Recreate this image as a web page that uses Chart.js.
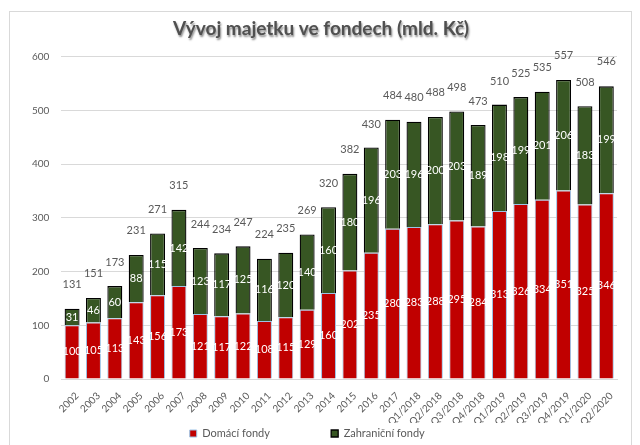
<!DOCTYPE html>
<html>
<head>
<meta charset="utf-8">
<script src="https://cdn.jsdelivr.net/npm/chart.js@4/dist/chart.umd.min.js"></script>
<style>
  html, body { margin: 0; padding: 0; background: #fff; }
  #wrap { width: 640px; height: 445px; position: relative; }
</style>
</head>
<body>
<div id="wrap"><canvas id="myChart" width="640" height="445"></canvas></div>
<script>
const labels = [
  '2002', '2003', '2004', '2005', '2006', '2007', '2008', '2009', '2010',
  '2011', '2012', '2013', '2014', '2015', '2016', '2017',
  'Q1/2018', 'Q2/2018', 'Q3/2018', 'Q4/2018',
  'Q1/2019', 'Q2/2019', 'Q3/2019', 'Q4/2019',
  'Q1/2020', 'Q2/2020',
];
const domaci = [100, 105, 113, 143, 156, 173, 121, 117, 122, 108, 115, 129, 160,
  202, 235, 280, 283, 288, 295, 284, 313, 326, 334, 351, 325, 346];
const zahranicni = [31, 46, 60, 88, 115, 142, 123, 117, 125, 116, 120, 140, 160,
  180, 196, 203, 196, 200, 203, 189, 198, 199, 201, 206, 183, 199];
const celkem = [131, 151, 173, 231, 271, 315, 244, 234, 247, 224, 235, 269, 320,
  382, 430, 484, 480, 488, 498, 473, 510, 525, 535, 557, 508, 546];
const titleText = 'Vývoj majetku ve fondech (mld. Kč)';

const fontFam = 'Lato, "Liberation Sans", sans-serif';

// frame, shadowed title and value labels
const labelsPlugin = {
  id: 'labelsPlugin',
  beforeDraw(chart) {
    const ctx = chart.ctx;
    ctx.save();
    ctx.strokeStyle = '#d9d9d9';
    ctx.lineWidth = 1;
    ctx.strokeRect(9.5, 11.5, 622, 460);
    ctx.restore();
  },
  afterDraw(chart) {
    const ctx = chart.ctx;
    const tb = chart.titleBlock;
    ctx.save();
    ctx.font = 'bold 19px ' + fontFam;
    ctx.textAlign = 'center';
    ctx.textBaseline = 'middle';
    ctx.shadowColor = 'rgba(0,0,0,0.45)';
    ctx.shadowOffsetX = 1;
    ctx.shadowOffsetY = 2;
    ctx.shadowBlur = 2;
    ctx.fillStyle = '#505050';
    ctx.fillText(titleText, 321, tb.top + 4 + 11);
    ctx.restore();
  },
  afterDatasetsDraw(chart) {
    const ctx = chart.ctx;
    ctx.save();
    ctx.font = '11px ' + fontFam;
    ctx.textAlign = 'center';
    ctx.textBaseline = 'middle';
    chart.data.datasets.forEach((ds, i) => {
      const meta = chart.getDatasetMeta(i);
      meta.data.forEach((bar, j) => {
        ctx.fillStyle = '#ffffff';
        ctx.fillText(ds.data[j], bar.x, (bar.y + bar.base) / 2);
      });
    });
    const y = chart.scales.y;
    const meta = chart.getDatasetMeta(1);
    ctx.fillStyle = '#595959';
    celkem.forEach((v, j) => {
      ctx.fillText(v, meta.data[j].x, y.getPixelForValue(v) - 24);
    });
    ctx.restore();
  }
};

const data = {
  labels: labels,
  datasets: [
    {
      label: 'Domácí fondy',
      backgroundColor: '#c00000',
      borderColor: '#9dc3e6',
      borderWidth: 1,
      data: domaci,
    },
    {
      label: 'Zahraniční fondy',
      backgroundColor: '#375623',
      borderColor: '#000000',
      borderWidth: 1.3,
      data: zahranicni,
    },
  ]
};

const config = {
  type: 'bar',
  data,
  options: {
    responsive: false,
    animation: false,
    datasets: { bar: { barPercentage: 0.7, categoryPercentage: 1 } },
    layout: { padding: { left: 20, right: 23, top: 14, bottom: -4 } },
    plugins: {
      title: {
        display: true,
        text: titleText,
        color: 'rgba(0,0,0,0)',
        font: { family: fontFam, size: 19, weight: 'bold' },
        padding: { top: 4, bottom: 16 },
      },
      legend: {
        position: 'bottom',
        labels: {
          color: '#595959',
          font: { family: fontFam, size: 11 },
          boxWidth: 7,
          boxHeight: 7,
          padding: 5,
          generateLabels(chart) {
            const items = Chart.defaults.plugins.legend.labels.generateLabels(chart);
            items[0].text = items[0].text + '                    ';
            items[1].text = items[1].text + '        ';
            return items;
          },
        },
      },
      tooltip: { enabled: false },
    },
    scales: {
      x: {
        stacked: true,
        grid: { display: false },
        border: { color: '#d9d9d9', width: 1 },
        ticks: {
          color: '#595959',
          font: { family: fontFam, size: 10 },
          minRotation: 45,
          maxRotation: 45,
          padding: 3,
          labelOffset: 5,
        },
        afterFit(scale) { scale.height = 44; },
      },
      y: {
        stacked: true,
        min: 0,
        max: 600,
        grid: { color: '#d9d9d9', drawTicks: false },
        border: { display: false },
        ticks: {
          stepSize: 100,
          color: '#595959',
          font: { family: fontFam, size: 10 },
          padding: 12,
        },
      },
    },
  },
  plugins: [labelsPlugin],
};

var myChart = new Chart(
  document.getElementById('myChart'),
  config
);
</script>
</body>
</html>
